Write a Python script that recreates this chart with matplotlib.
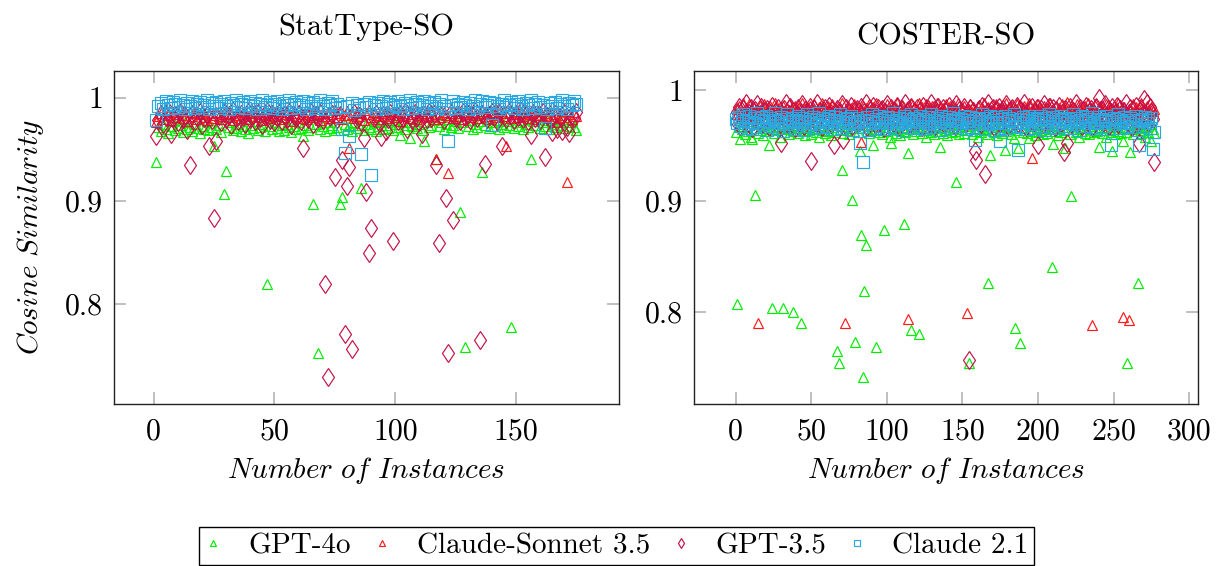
import numpy as np
import matplotlib
matplotlib.use('Agg')
import matplotlib.pyplot as plt
from matplotlib.lines import Line2D

plt.rcParams['mathtext.fontset'] = 'cm'
plt.rcParams['font.family'] = 'cmr10'
plt.rcParams['axes.formatter.use_mathtext'] = True

# ---- data (cosine similarity in thousandths, one value per instance) ----
series_names = ['GPT-4o', 'Claude-Sonnet 3.5', 'GPT-3.5', 'Claude 2.1']

# StatType-SO, instances 1..175
stat_gpt4o = [
    938, 972, 968, 975, 970, 966, 973, 977, 969, 971, 974, 967, 976, 970, 972, 968, 975, 971, 966, 973, 970, 977, 969, 972, 953,
    970, 974, 967, 907, 929, 972, 976, 969, 971, 975, 968, 973, 970, 966, 974, 971, 977, 969, 972, 975, 968, 819, 973, 970, 976,
    971, 968, 974, 969, 975, 972, 967, 973, 970, 976, 971, 963, 974, 969, 972, 897, 975, 753, 970, 973, 968, 976, 971, 974, 969,
    972, 897, 904, 975, 970, 973, 968, 976, 971, 974, 912, 969, 975, 972, 970, 977, 968, 973, 976, 970, 974, 971, 978, 969, 975,
    972, 964, 976, 970, 974, 961, 973, 977, 971, 975, 969, 958, 976, 972, 974, 978, 941, 973, 976, 970, 975, 979, 972, 974, 977,
    971, 889, 976, 758, 973, 978, 970, 975, 972, 977, 928, 974, 979, 971, 976, 973, 978, 970, 975, 972, 977, 974, 778, 971, 976,
    973, 978, 970, 975, 972, 941, 977, 974, 979, 971, 976, 973, 978, 970, 975, 972, 977, 974, 979, 971, 976, 973, 978, 972, 969]
stat_sonnet = [
    976, 982, 985, 979, 987, 983, 978, 986, 981, 984, 988, 980, 983, 977, 986, 982, 985, 979, 984, 987, 981, 978, 985, 983, 980,
    986, 982, 979, 984, 988, 981, 985, 978, 983, 987, 980, 984, 986, 979, 982, 985, 988, 981, 984, 978, 986, 983, 980, 985, 982,
    987, 979, 984, 981, 986, 983, 977, 985, 982, 988, 980, 984, 979, 986, 983, 981, 987, 984, 978, 985, 982, 986, 980, 984, 988,
    981, 985, 979, 983, 987, 951, 984, 980, 986, 982, 985, 978, 984, 988, 981, 986, 983, 979, 985, 982, 987, 980, 984, 986, 981,
    983, 977, 985, 982, 988, 980, 984, 986, 979, 983, 987, 981, 985, 982, 988, 979, 941, 984, 981, 986, 983, 927, 985, 980, 987,
    982, 985, 979, 984, 988, 981, 986, 983, 980, 985, 987, 982, 984, 979, 986, 983, 988, 981, 985, 982, 953, 986, 980, 984, 987,
    981, 985, 982, 988, 980, 984, 986, 979, 983, 987, 981, 985, 982, 988, 980, 984, 976, 983, 987, 981, 918, 984, 979, 986, 982]
stat_gpt35 = [
    963, 978, 984, 975, 981, 987, 965, 980, 983, 976, 986, 979, 982, 969, 935, 984, 977, 981, 986, 974, 980, 983, 953, 978, 883,
    958, 982, 976, 985, 979, 983, 974, 987, 980, 977, 984, 981, 975, 986, 979, 983, 977, 985, 980, 974, 982, 987, 978, 984, 976,
    981, 985, 977, 983, 979, 986, 974, 982, 980, 984, 977, 951, 983, 979, 986, 975, 982, 980, 985, 978, 819, 729, 981, 984, 923,
    979, 983, 940, 771, 914, 933, 756, 985, 978, 982, 976, 961, 909, 849, 874, 980, 984, 977, 962, 983, 968, 979, 985, 861, 981,
    977, 984, 980, 986, 970, 982, 978, 985, 981, 976, 965, 983, 979, 986, 980, 984, 935, 859, 982, 978, 903, 753, 985, 881, 980,
    983, 977, 986, 981, 984, 978, 982, 987, 980, 765, 984, 936, 979, 983, 986, 981, 977, 985, 953, 982, 979, 986, 983, 978, 984,
    981, 987, 979, 983, 977, 964, 985, 980, 983, 978, 986, 943, 982, 979, 967, 984, 970, 981, 968, 985, 972, 966, 983, 980, 986]
stat_claude21 = [
    978, 992, 995, 989, 997, 993, 990, 996, 994, 991, 998, 993, 989, 995, 992, 997, 990, 994, 996, 991, 993, 998, 989, 995, 992,
    996, 990, 994, 997, 992, 989, 995, 993, 998, 991, 994, 996, 990, 993, 997, 992, 995, 989, 994, 998, 991, 993, 996, 990, 994,
    997, 992, 989, 995, 993, 998, 990, 994, 996, 991, 993, 997, 989, 995, 992, 996, 990, 994, 998, 992, 989, 995, 993, 997, 990,
    994, 991, 970, 946, 992, 963, 995, 988, 993, 990, 945, 994, 991, 996, 925, 993, 989, 995, 992, 997, 990, 994, 996, 991, 993,
    997, 992, 989, 995, 993, 998, 990, 994, 996, 991, 993, 997, 989, 995, 992, 996, 990, 994, 998, 992, 989, 958, 993, 997, 990,
    994, 991, 996, 993, 989, 995, 992, 998, 990, 994, 997, 991, 993, 996, 974, 995, 992, 989, 994, 998, 991, 993, 996, 990, 994,
    997, 992, 989, 995, 993, 998, 990, 994, 996, 991, 993, 971, 989, 995, 992, 996, 990, 994, 998, 992, 989, 995, 993, 997, 994]

# COSTER-SO, instances 0..277
coster_gpt4o = [
    962, 807, 968, 956, 965, 971, 960, 967, 963, 970, 958, 956, 966, 905, 969, 961, 964, 972, 959, 966,
    963, 969, 950, 965, 803, 961, 968, 964, 971, 958, 966, 803, 962, 969, 965, 960, 967, 972, 800, 963,
    968, 961, 966, 790, 970, 963, 959, 967, 964, 971, 960, 966, 969, 962, 965, 958, 968, 964, 971, 961,
    966, 963, 969, 959, 967, 972, 962, 764, 754, 965, 928, 961, 968, 964, 970, 960, 966, 901, 963, 773,
    969, 962, 945, 869, 741, 819, 860, 966, 961, 968, 964, 950, 971, 768, 965, 962, 969, 960, 874, 967,
    963, 970, 958, 952, 966, 972, 961, 968, 964, 959, 967, 879, 962, 969, 943, 965, 783, 960, 968, 963,
    970, 780, 966, 961, 969, 964, 958, 967, 972, 962, 965, 960, 968, 963, 970, 949, 966, 961, 969, 964,
    959, 967, 971, 962, 966, 963, 917, 969, 960, 965, 972, 961, 968, 964, 754, 966, 960, 969, 963, 970,
    958, 966, 962, 968, 964, 971, 960, 826, 941, 965, 969, 962, 967, 959, 964, 970, 961, 968, 946, 963,
    966, 972, 960, 967, 957, 785, 964, 948, 772, 969, 962, 966, 970, 961, 957, 968, 963, 971, 959, 966,
    962, 969, 964, 960, 967, 972, 961, 965, 968, 840, 951, 963, 970, 959, 966, 962, 969, 964, 948, 967,
    971, 960, 904, 965, 968, 962, 970, 958, 966, 963, 969, 961, 967, 972, 960, 965, 968, 962, 970, 963,
    949, 966, 961, 969, 964, 958, 967, 971, 962, 945, 965, 960, 968, 963, 970, 961, 954, 966, 962, 754,
    969, 944, 965, 960, 967, 963, 826, 970, 961, 966, 964, 958, 968, 962, 969, 954, 965, 961]
coster_sonnet = [
    978, 983, 986, 975, 981, 988, 979, 984, 977, 987, 982, 976, 985, 980, 983, 790, 986, 978, 982, 987,
    976, 984, 980, 986, 979, 983, 988, 977, 982, 985, 979, 986, 981, 976, 984, 987, 980, 983, 978, 986,
    982, 977, 985, 980, 988, 983, 976, 984, 981, 986, 978, 983, 987, 980, 975, 985, 982, 988, 979, 984,
    981, 986, 977, 983, 987, 980, 984, 978, 985, 982, 988, 979, 790, 983, 986, 977, 984, 981, 987, 980,
    985, 978, 983, 953, 986, 980, 984, 977, 987, 982, 979, 985, 981, 988, 976, 983, 986, 980, 984, 978,
    987, 982, 979, 985, 981, 976, 984, 988, 980, 983, 986, 978, 982, 985, 793, 981, 987, 979, 984, 977,
    983, 988, 980, 985, 978, 982, 987, 976, 984, 981, 986, 979, 983, 988, 977, 985, 980, 984, 982, 987,
    978, 983, 986, 980, 985, 977, 982, 988, 979, 984, 981, 986, 976, 799, 983, 987, 980, 985, 978, 982,
    986, 979, 984, 981, 988, 977, 983, 985, 980, 986, 978, 982, 987, 981, 984, 977, 985, 980, 983, 988,
    979, 984, 981, 986, 977, 983, 987, 980, 985, 978, 982, 986, 979, 984, 988, 981, 939, 985, 978, 983,
    987, 980, 984, 977, 986, 982, 979, 985, 988, 981, 983, 976, 986, 980, 984, 978, 987, 982, 985, 989,
    980, 983, 986, 978, 984, 981, 987, 977, 985, 982, 979, 986, 983, 988, 980, 984, 788, 981, 987, 978,
    984, 986, 980, 983, 977, 987, 981, 985, 978, 983, 986, 980, 984, 988, 979, 982, 795, 985, 980, 976,
    792, 984, 978, 987, 981, 985, 979, 983, 988, 980, 984, 977, 986, 982, 979, 985, 981, 983]
coster_gpt35 = [
    972, 980, 985, 968, 977, 983, 974, 988, 970, 979, 984, 966, 976, 982, 987, 971, 978, 985, 969, 981,
    975, 983, 967, 979, 986, 972, 980, 974, 984, 969, 952, 977, 983, 988, 970, 978, 985, 973, 981, 966,
    976, 984, 971, 979, 987, 968, 982, 974, 980, 985, 936, 977, 983, 970, 988, 975, 981, 967, 979, 984,
    972, 978, 986, 969, 982, 950, 975, 983, 971, 980, 987, 955, 977, 984, 973, 979, 986, 968, 981, 975,
    983, 970, 978, 985, 972, 980, 988, 967, 976, 982, 974, 986, 969, 979, 984, 971, 977, 983, 966, 980,
    987, 973, 978, 984, 970, 981, 975, 986, 968, 979, 983, 972, 988, 977, 982, 969, 985, 974, 980, 971,
    984, 976, 981, 967, 986, 973, 979, 983, 970, 988, 975, 982, 968, 980, 985, 972, 977, 984, 969, 981,
    974, 986, 971, 979, 983, 968, 987, 976, 982, 973, 980, 985, 970, 978, 756, 984, 972, 981, 945, 937,
    977, 983, 969, 986, 975, 924, 980, 988, 971, 978, 984, 967, 982, 976, 985, 970, 979, 983, 973, 987,
    968, 981, 976, 984, 972, 979, 986, 970, 983, 975, 980, 988, 967, 977, 982, 974, 985, 971, 979, 984,
    950, 976, 983, 969, 987, 973, 980, 985, 971, 978, 984, 967, 982, 975, 986, 970, 979, 944, 983, 952,
    977, 985, 969, 981, 974, 988, 972, 979, 984, 968, 982, 976, 986, 971, 980, 983, 967, 978, 985, 973,
    993, 975, 982, 970, 987, 977, 983, 968, 980, 985, 972, 979, 986, 969, 983, 976, 981, 974, 988, 971,
    979, 984, 967, 982, 976, 986, 970, 952, 983, 975, 992, 978, 988, 971, 985, 980, 974, 935]
coster_claude21 = [
    974, 970, 976, 968, 972, 978, 966, 973, 969, 977, 971, 965, 975, 970, 979, 967, 973, 976, 969, 972,
    977, 964, 971, 975, 968, 973, 979, 966, 972, 970, 976, 963, 974, 969, 978, 971, 967, 975, 972, 965,
    973, 977, 969, 971, 975, 964, 972, 978, 968, 974, 970, 976, 966, 973, 969, 979, 971, 967, 975, 972,
    968, 974, 977, 970, 965, 973, 976, 969, 972, 978, 966, 971, 975, 968, 974, 970, 977, 964, 972, 969,
    975, 971, 952, 967, 935, 973, 969, 976, 964, 972, 978, 970, 966, 974, 971, 977, 968, 973, 965, 975,
    970, 976, 968, 972, 979, 966, 973, 969, 975, 971, 964, 977, 970, 974, 967, 972, 978, 969, 975, 966,
    973, 971, 977, 968, 974, 965, 972, 976, 970, 978, 967, 973, 969, 975, 971, 964, 977, 972, 968, 974,
    970, 976, 966, 973, 979, 969, 972, 975, 968, 974, 971, 977, 965, 973, 970, 976, 967, 972, 955, 975,
    969, 974, 971, 978, 966, 972, 975, 969, 977, 970, 973, 964, 976, 971, 968, 954, 974, 970, 977, 966,
    972, 975, 969, 973, 978, 967, 971, 946, 974, 968, 976, 970, 965, 973, 977, 969, 972, 975, 966, 974,
    971, 977, 968, 973, 964, 975, 970, 978, 967, 972, 976, 969, 974, 966, 971, 977, 973, 968, 975, 970,
    974, 966, 972, 978, 969, 975, 971, 964, 973, 977, 968, 972, 976, 970, 974, 967, 979, 971, 965, 973,
    976, 970, 974, 968, 972, 977, 965, 973, 950, 971, 975, 969, 974, 978, 966, 972, 970, 976, 968, 973,
    971, 975, 967, 973, 969, 977, 964, 950, 972, 974, 968, 976, 970, 973, 966, 975, 947, 962]

# ---- styles ----
colors = ['#00ee00', '#ff1a1a', '#c41048', '#2aa7df']
markers = ['^', '^', 'd', 's']
msizes = [7.2, 7.2, 9.4, 8.2]

panels = [
    ('StatType-SO', 1, [stat_gpt4o, stat_sonnet, stat_gpt35, stat_claude21],
     (-16.4, 192.6), [0, 50, 100, 150], (0.7031, 1.0259), 1.108),
    ('COSTER-SO', 0, [coster_gpt4o, coster_sonnet, coster_gpt35, coster_claude21],
     (-27.6, 305.8), [0, 50, 100, 150, 200, 250, 300], (0.7166, 1.0172), 1.081),
]

fig = plt.figure(figsize=(12.22, 5.66), dpi=100)
ax_pos = [[114 / 1222, 1 - 404 / 566, 505 / 1222, 333 / 566],
          [694 / 1222, 1 - 404 / 566, 504 / 1222, 333 / 566]]

for k, (title, start, data, xlim, xticks, ylim, ty) in enumerate(panels):
    ax = fig.add_axes(ax_pos[k])
    for vals, c, m, s in zip(data, colors, markers, msizes):
        x = np.arange(len(vals)) + start
        ax.plot(x, np.array(vals) / 1000, linestyle='none', marker=m, ms=s,
                mfc='none', mec=c, mew=0.85)
    ax.set_xlim(*xlim)
    ax.set_ylim(*ylim)
    ax.set_xticks(xticks)
    ax.set_xticklabels([str(t) for t in xticks])
    ax.set_yticks([0.8, 0.9, 1.0])
    ax.set_yticklabels(['0.8', '0.9', '1'])
    ax.tick_params(direction='in', length=8.5, width=1.2, color='#b4b4b4',
                   top=True, right=True, labelsize=21.5, labelcolor='black')
    ax.tick_params(axis='x', pad=10)
    ax.tick_params(axis='y', pad=8)
    for sp in ax.spines.values():
        sp.set_linewidth(1.0)
        sp.set_color('#222222')
    ax.set_xlabel(r'$\mathit{Number\ of\ Instances}$', fontsize=21)
    ax.xaxis.label.set_va('center')
    ax.xaxis.set_label_coords(0.5, (404 - 470) / 333)
    ax.text(0.5, ty, title, transform=ax.transAxes, ha='center',
            va='baseline', fontsize=22)
    if k == 0:
        ax.set_ylabel(r'$\mathit{Cosine\ Similarity}$', fontsize=21)
        ax.yaxis.label.set_va('center')
        ax.yaxis.set_label_coords((31 - 114) / 505, 0.5)

handles = [Line2D([], [], linestyle='none', marker=m, ms=s * 0.55, mfc='none',
                  mec=c, mew=0.85)
           for c, m, s in zip(colors, markers, msizes)]
fig.legend(handles, series_names, loc='upper center',
           bbox_to_anchor=(616.5 / 1222, 1 - 527 / 566), ncol=4, fontsize=21,
           frameon=True, fancybox=False, edgecolor='black', framealpha=1,
           handlelength=0.6, handletextpad=0.9, columnspacing=0.75,
           borderpad=0.2, borderaxespad=0)

fig.savefig('out.png', dpi=100)
